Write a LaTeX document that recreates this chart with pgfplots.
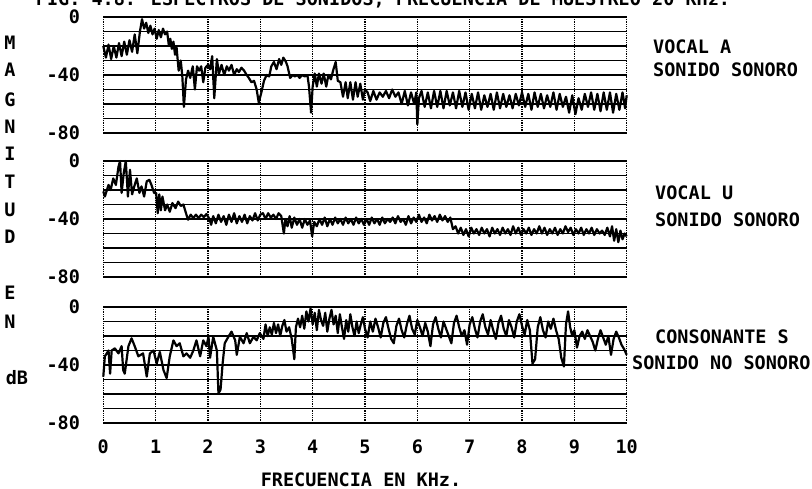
\documentclass[border=0pt]{standalone}
\usepackage{pgfplots}
\pgfplotsset{compat=1.18}
\usepackage{fontspec}
\setmainfont{DejaVu Sans Mono}

\pgfplotsset{
  spec/.style={
    at={(103.3pt,#1)}, anchor=south west,
    width=523.4pt, height=116pt, scale only axis,
    xmin=0, xmax=10, ymin=-80, ymax=0,
    axis line style={draw=none},
    xtick={0,...,10}, ytick={-80,-40,0},
    minor ytick={-70,-60,-50,-30,-20,-10},
    xmajorgrids, ymajorgrids, yminorgrids,
    grid style={black, line width=1.3pt},
    x grid style={densely dotted},
    major tick length=0pt, minor tick length=0pt,
    xticklabels={},
    yticklabel style={xshift=-17pt},
    xticklabel style={yshift=-10.5pt},
    /pgf/number format/assume math mode=true,
    tick label style={font=\bfseries},
    clip=false,
  },
  curve/.style={black, line width=2.2pt, line join=round, mark=none},
}

\begin{document}
\fontsize{18.5}{20}\selectfont
\begin{tikzpicture}
\useasboundingbox (0pt,0pt) rectangle (812pt,488pt);

% vocal A
\begin{axis}[spec=355pt]
\addplot[curve] coordinates {
(0,-20)(0.05,-28)(0.1,-19)(0.15,-29)(0.2,-20)(0.25,-28)(0.3,-18)(0.35,-27)(0.4,-17)(0.45,-26)
(0.5,-16)(0.55,-24)(0.6,-12)(0.65,-25)(0.7,-10)(0.74,-1.5)(0.78,-8)(0.82,-4)(0.86,-11)(0.9,-6)
(0.94,-12)(0.98,-8)(1.02,-15)(1.06,-9)(1.1,-14)(1.14,-8)(1.18,-12)(1.22,-10)(1.25,-19)(1.28,-15)
(1.31,-22)(1.34,-17)(1.37,-26)(1.4,-21)(1.44,-37)(1.48,-30)(1.51,-41)(1.54,-62)(1.58,-43)(1.62,-37)
(1.66,-42)(1.71,-34)(1.75,-50)(1.79,-34)(1.83,-37)(1.87,-34)(1.91,-45)(1.95,-35)(2,-33)(2.04,-36)
(2.08,-27)(2.12,-56)(2.17,-29)(2.21,-39)(2.26,-33)(2.31,-40)(2.36,-34)(2.4,-37)(2.45,-33)(2.5,-40)
(2.55,-36)(2.59,-38)(2.64,-35)(2.69,-37)(2.74,-40)(2.78,-42)(2.83,-45)(2.88,-44)(2.93,-50)(2.97,-59)
(3.02,-52)(3.07,-44)(3.12,-40)(3.17,-41)(3.21,-34)(3.26,-31)(3.31,-36)(3.36,-29)(3.4,-33)(3.44,-28)
(3.49,-31)(3.52,-34)(3.57,-42)(3.62,-40)(3.66,-41)(3.71,-40)(3.75,-42)(3.8,-40)(3.85,-41)(3.9,-40)
(3.93,-48)(3.97,-66)(4,-48)(4.04,-39)(4.08,-48)(4.12,-39)(4.17,-46)(4.21,-39)(4.26,-48)(4.3,-40)
(4.35,-43)(4.39,-37)(4.44,-31)(4.48,-44)(4.53,-45)(4.58,-55)(4.63,-45)(4.67,-56)(4.72,-45)(4.77,-57)
(4.82,-45)(4.86,-55)(4.91,-46)(4.96,-57)(5,-50)(5.05,-52)(5.1,-58)(5.16,-51)(5.22,-57)(5.28,-52)
(5.34,-55)(5.4,-51)(5.46,-56)(5.52,-50)(5.58,-55)(5.64,-52)(5.7,-60)(5.76,-51)(5.82,-61)(5.88,-52)
(5.94,-60)(5.98,-52)(6,-74)(6.03,-56)(6.08,-51)(6.14,-62)(6.2,-52)(6.26,-63)(6.32,-51)(6.38,-62)
(6.44,-51)(6.5,-63)(6.56,-51)(6.62,-61)(6.68,-52)(6.74,-63)(6.8,-51)(6.86,-62)(6.92,-52)(6.98,-64)
(7.04,-53)(7.1,-63)(7.16,-52)(7.22,-64)(7.28,-54)(7.34,-62)(7.4,-53)(7.46,-64)(7.52,-52)(7.58,-63)
(7.64,-53)(7.7,-62)(7.76,-54)(7.82,-63)(7.88,-53)(7.94,-61)(8,-52)(8.06,-62)(8.12,-53)(8.18,-64)
(8.24,-52)(8.3,-62)(8.36,-53)(8.42,-63)(8.48,-54)(8.54,-62)(8.6,-52)(8.66,-64)(8.72,-53)(8.78,-62)
(8.84,-55)(8.9,-66)(8.96,-54)(9.02,-67)(9.08,-56)(9.14,-64)(9.2,-53)(9.26,-62)(9.32,-52)(9.38,-64)
(9.44,-53)(9.5,-65)(9.56,-52)(9.62,-64)(9.68,-52)(9.74,-66)(9.8,-53)(9.86,-64)(9.92,-52)(9.97,-63)
(10,-54)};
\end{axis}

% vocal U
\begin{axis}[spec=211pt]
\addplot[curve] coordinates {
(0,-21)(0.03,-24.5)(0.1,-16.5)(0.14,-20)(0.19,-12)(0.24,-16.5)(0.29,-4)(0.32,0)(0.35,-22)(0.39,-8.5)
(0.43,0)(0.47,-24.5)(0.51,-6)(0.55,-23)(0.6,-16.5)(0.64,-12)(0.69,-22)(0.73,-17.5)(0.78,-24.5)(0.83,-14)
(0.88,-13)(0.92,-16.5)(0.97,-22)(1.01,-22)(1.04,-36)(1.07,-23)(1.1,-34)(1.13,-24.5)(1.18,-34)(1.22,-30)
(1.27,-35)(1.32,-29)(1.38,-32.5)(1.43,-28)(1.48,-31)(1.53,-30)(1.58,-36)(1.62,-40.5)(1.67,-37)(1.72,-39.4)
(1.77,-37)(1.82,-39.4)(1.87,-37)(1.92,-38.7)(1.97,-36.6)(2.03,-40)(2.06,-44)(2.1,-38)(2.15,-43)(2.2,-37)
(2.25,-42)(2.3,-38)(2.35,-44)(2.4,-37)(2.45,-42)(2.5,-36)(2.55,-43)(2.6,-38)(2.65,-42)(2.7,-37)
(2.75,-43)(2.8,-38)(2.85,-41)(2.9,-36)(2.95,-41)(3,-37)(3.05,-36)(3.1,-40)(3.15,-36)(3.2,-39)
(3.25,-37)(3.3,-40)(3.35,-36)(3.4,-38)(3.45,-50)(3.48,-40)(3.52,-45)(3.56,-38)(3.6,-46)(3.65,-39)
(3.7,-44)(3.75,-40)(3.8,-46)(3.85,-40)(3.9,-44)(3.95,-41)(3.99,-52)(4.03,-42)(4.08,-45)(4.13,-40)
(4.18,-44)(4.23,-39)(4.28,-45)(4.33,-40)(4.38,-44)(4.43,-39)(4.48,-43)(4.53,-40)(4.58,-44)(4.63,-39)
(4.68,-43)(4.73,-40)(4.78,-44)(4.83,-39)(4.88,-43)(4.93,-40)(4.98,-44)(5.03,-40)(5.08,-44)(5.13,-39)
(5.18,-43)(5.23,-40)(5.28,-44)(5.33,-39)(5.38,-43)(5.43,-40)(5.48,-42)(5.53,-39)(5.58,-43)(5.63,-38)
(5.68,-42)(5.73,-40)(5.78,-44)(5.83,-38)(5.88,-43)(5.93,-39)(5.98,-42)(6.03,-37)(6.08,-42)(6.13,-39)
(6.18,-43)(6.23,-37)(6.28,-41)(6.33,-38)(6.38,-42)(6.43,-37)(6.48,-41)(6.53,-38)(6.58,-42)(6.63,-39)
(6.68,-47)(6.73,-45)(6.78,-50)(6.83,-46)(6.88,-51)(6.93,-47)(6.98,-52)(7.03,-46)(7.08,-50)(7.13,-47)
(7.18,-51)(7.23,-46)(7.28,-50)(7.33,-47)(7.38,-52)(7.43,-46)(7.48,-50)(7.53,-47)(7.58,-51)(7.63,-46)
(7.68,-50)(7.73,-47)(7.78,-51)(7.83,-45)(7.88,-50)(7.93,-46)(7.98,-51)(8.03,-47)(8.08,-50)(8.13,-46)
(8.18,-51)(8.23,-47)(8.28,-50)(8.33,-45)(8.38,-50)(8.43,-46)(8.48,-51)(8.53,-47)(8.58,-50)(8.63,-46)
(8.68,-51)(8.73,-47)(8.78,-50)(8.83,-45)(8.88,-49)(8.93,-46)(8.98,-51)(9.03,-47)(9.08,-50)(9.13,-46)
(9.18,-51)(9.23,-47)(9.28,-50)(9.33,-46)(9.38,-51)(9.43,-47)(9.48,-50)(9.53,-48)(9.58,-51)(9.63,-46)
(9.68,-52)(9.72,-45)(9.76,-55)(9.8,-47)(9.84,-56)(9.88,-48)(9.92,-54)(9.96,-50)(10,-52)};
\end{axis}

% consonante S
\begin{axis}[spec=65pt, xticklabels={0,1,2,3,4,5,6,7,8,9,10}]
\addplot[curve] coordinates {
(0,-48)(0.03,-34)(0.1,-30)(0.13,-46)(0.16,-30)(0.22,-28.5)(0.29,-32)(0.35,-27)(0.38,-43.5)(0.41,-46)
(0.48,-27)(0.54,-21.6)(0.6,-27)(0.67,-34)(0.76,-32)(0.83,-48)(0.89,-32)(0.96,-30)(1.02,-39)(1.08,-31)
(1.15,-43.5)(1.21,-49)(1.27,-34)(1.34,-23)(1.4,-27)(1.46,-25)(1.53,-34)(1.59,-32)(1.66,-35)(1.72,-30)
(1.78,-23)(1.85,-34)(1.91,-23)(1.97,-27)(2.01,-20.5)(2.04,-35)(2.1,-20.5)(2.17,-30)(2.2,-59.6)(2.24,-57)
(2.28,-39)(2.32,-25)(2.39,-20.5)(2.45,-17)(2.52,-23)(2.55,-33)(2.61,-20.5)(2.68,-25)(2.74,-18)(2.8,-25)
(2.87,-20.5)(2.93,-23)(2.99,-18)(3.06,-22)(3.1,-12)(3.14,-20)(3.18,-14)(3.22,-19)(3.26,-11)(3.3,-18)
(3.34,-12)(3.38,-20)(3.42,-13)(3.46,-9)(3.5,-17)(3.55,-14)(3.6,-22)(3.65,-36)(3.68,-14)(3.72,-8)
(3.76,-14)(3.8,-6)(3.84,-15)(3.88,-3)(3.92,-10)(3.96,-1)(4,-12)(4.04,-4)(4.08,-16)(4.12,-2)
(4.16,-9)(4.2,-13)(4.24,-4)(4.28,-17)(4.32,-8)(4.36,-2)(4.4,-12)(4.44,-6)(4.48,-18)(4.52,-5)
(4.56,-14)(4.6,-22)(4.64,-9)(4.68,-17)(4.72,-5)(4.76,-14)(4.8,-20)(4.84,-10)(4.88,-18)(4.92,-12)
(4.96,-7)(5,-15)(5.05,-21)(5.1,-10)(5.15,-17)(5.2,-8)(5.25,-14)(5.3,-21)(5.35,-11)(5.4,-7)
(5.45,-15)(5.5,-22)(5.55,-25)(5.6,-13)(5.65,-8)(5.7,-16)(5.75,-21)(5.8,-12)(5.85,-6)(5.9,-15)
(5.95,-19)(6,-9)(6.05,-14)(6.1,-20)(6.15,-11)(6.2,-17)(6.25,-27)(6.3,-12)(6.35,-7)(6.4,-15)
(6.45,-21)(6.5,-10)(6.55,-15)(6.6,-20)(6.65,-25)(6.7,-11)(6.75,-6)(6.8,-14)(6.85,-20)(6.9,-16)
(6.95,-26)(7,-12)(7.05,-7)(7.1,-15)(7.15,-21)(7.2,-10)(7.25,-5)(7.3,-14)(7.35,-19)(7.4,-9)
(7.45,-16)(7.5,-22)(7.55,-11)(7.6,-6)(7.65,-15)(7.7,-20)(7.75,-9)(7.8,-14)(7.85,-21)(7.9,-10)
(7.95,-5)(8,-13)(8.05,-19)(8.1,-9)(8.15,-16)(8.2,-39)(8.25,-36)(8.3,-14)(8.35,-7)(8.4,-16)
(8.45,-21)(8.5,-10)(8.55,-15)(8.6,-8)(8.65,-16)(8.7,-22)(8.75,-35)(8.8,-41)(8.84,-12)(8.88,-3)
(8.92,-14)(8.96,-20)(9,-16)(9.05,-28)(9.1,-20)(9.15,-17)(9.2,-22)(9.25,-16)(9.3,-20)(9.35,-24)
(9.4,-30)(9.45,-22)(9.5,-16)(9.55,-21)(9.6,-26)(9.65,-20)(9.7,-33)(9.75,-22)(9.8,-17)(9.85,-21)
(9.9,-26)(9.95,-29)(10,-33)};
\end{axis}

\begin{scope}[every node/.style={inner sep=0pt, font=\bfseries}]
% title: only its lower half shows at the top edge, as in the scan
\node[anchor=base] at (383pt,482pt) {FIG. 4.8. ESPECTROS DE SONIDOS, FRECUENCIA DE MUESTREO 20 KHz.};
\foreach \t/\yy in {M/445, A/418, G/388, N/361, I/334, T/306, U/278, D/251, E/195, N/166}
  \node at (10pt,\yy pt) {\t};
\node at (17pt,110pt) {dB};
\node[anchor=west] at (653pt,441pt) {VOCAL A};
\node[anchor=west] at (653pt,418pt) {SONIDO SONORO};
\node[anchor=west] at (655pt,295pt) {VOCAL U};
\node[anchor=west] at (655pt,268pt) {SONIDO SONORO};
\node[anchor=west] at (655pt,151pt) {CONSONANTE S};
\node[anchor=west] at (632pt,125pt) {SONIDO NO SONORO};
\node at (361pt,8pt) {FRECUENCIA EN KHz.};
\end{scope}
\end{tikzpicture}
\end{document}
